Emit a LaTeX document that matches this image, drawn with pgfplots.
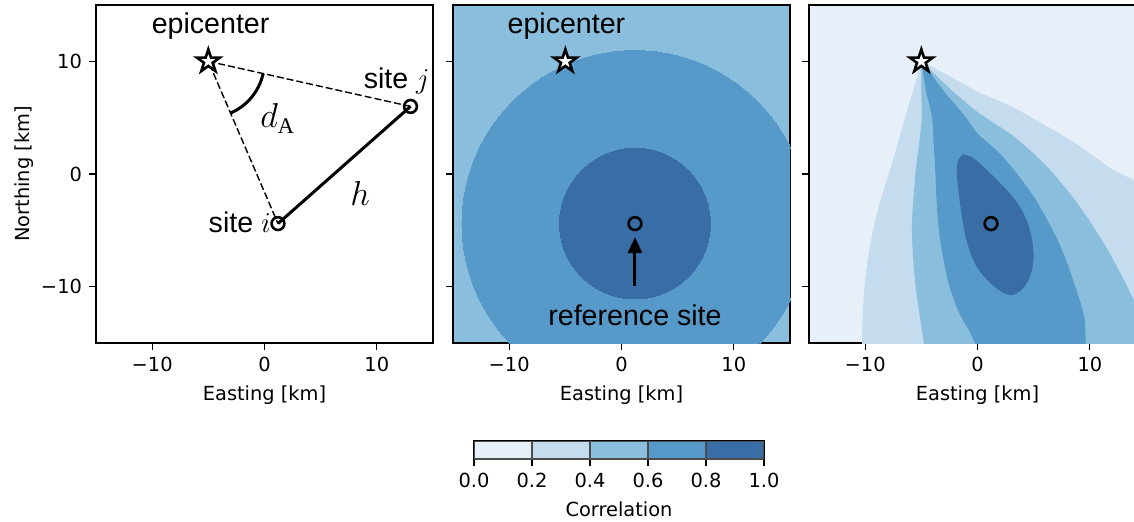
\documentclass[border=0pt]{standalone}
\usepackage{pgfplots}
\pgfplotsset{compat=1.18}
\usepackage{amsmath}
\usepackage{fontspec}
\setmainfont{DejaVu Sans}
\newfontfamily\arial{Liberation Sans}
\newfontfamily\serif{Liberation Serif}
\usetikzlibrary{arrows.meta}
\definecolor{c0}{RGB}{231,240,249}
\definecolor{c1}{RGB}{197,219,238}
\definecolor{c2}{RGB}{137,190,221}
\definecolor{c3}{RGB}{87,153,201}
\definecolor{c4}{RGB}{57,109,166}
\pgfdeclareplotmark{ostar}{%
  \pgfpathmoveto{\pgfpointpolar{90}{\pgfplotmarksize}}%
  \pgfpathlineto{\pgfpointpolar{126}{0.382\pgfplotmarksize}}%
  \pgfpathlineto{\pgfpointpolar{162}{\pgfplotmarksize}}%
  \pgfpathlineto{\pgfpointpolar{198}{0.382\pgfplotmarksize}}%
  \pgfpathlineto{\pgfpointpolar{234}{\pgfplotmarksize}}%
  \pgfpathlineto{\pgfpointpolar{270}{0.382\pgfplotmarksize}}%
  \pgfpathlineto{\pgfpointpolar{306}{\pgfplotmarksize}}%
  \pgfpathlineto{\pgfpointpolar{342}{0.382\pgfplotmarksize}}%
  \pgfpathlineto{\pgfpointpolar{18}{\pgfplotmarksize}}%
  \pgfpathlineto{\pgfpointpolar{54}{0.382\pgfplotmarksize}}%
  \pgfpathclose
  \pgfusepathqfillstroke
}
\newcommand\tfont{\fontsize{9.7}{11.5}\selectfont}
\newcommand\ann{\arial\fontsize{14.3}{16}\selectfont}
\pgfplotsset{
  panel/.style={
    scale only axis, width=168.5pt, height=169pt,
    xmin=-15, xmax=15, ymin=-15, ymax=15,
    xtick={-10,0,10}, ytick={-10,0,10},
    xticklabels={−10,0,10},
    tick align=outside, tick pos=left,
    major tick length=3.5pt,
    every tick/.style={black, line width=0.6pt},
    axis line style={line width=0.6pt},
    ticklabel style={font=\tfont},
    label style={font=\tfont},
    xlabel={Easting [km]},
    clip marker paths=true,
    anchor=south west,
  },
  starmark/.style={only marks, mark=ostar, mark size=6pt,
    mark options={draw=black, fill=white, line width=1.3pt, line join=miter}},
  sitemark/.style={only marks, mark=o, mark size=3.2pt,
    mark options={draw=black, line width=1.3pt}},
  region/.style={draw=none, fill=#1, smooth, tension=0.45},
}
\begin{document}
\begin{tikzpicture}
% ---------------- Panel 1 ----------------
\begin{axis}[panel, at={(48pt,-171.5pt)},
  yticklabels={−10,0,10}, ylabel={Northing [km]}, ylabel shift=-3pt]
\addplot[black, line width=0.7pt, dash pattern=on 3.5pt off 1.5pt] coordinates {(13,6) (-5,10) (1.2,-4.4)};
\addplot[black, line width=1.5pt] coordinates {(1.2,-4.4) (13,6)};
\addplot[black, line width=1.5pt, smooth] coordinates {
(-3.022,5.408) (-2.5,5.67) (-2.061,5.955) (-1.654,6.284) (-1.284,6.654)
(-0.955,7.061) (-0.670,7.5) (-0.432,7.966) (-0.245,8.455) (-0.119,8.918)};
\addplot[starmark] coordinates {(-5,10)};
\addplot[sitemark] coordinates {(13,6) (1.2,-4.4)};
\node[font=\ann] at (axis cs:-4.8,13.1) {epicenter};
\node[font=\ann, anchor=base west, inner sep=0pt] at (axis cs:8.8,7.6) {site $j$};
\node[font=\ann, anchor=base west, inner sep=0pt] at (axis cs:-5.0,-5.2) {site $i$};
\node[font=\fontsize{16}{18}\selectfont, anchor=base west, inner sep=0pt] at (axis cs:-0.4,4.1) {$d_{\text{\serif A}}$};
\node[font=\fontsize{16}{18}\selectfont, anchor=base west, inner sep=0pt] at (axis cs:7.6,-2.8) {$h$};
\end{axis}
% ---------------- Panel 2 ----------------
\begin{axis}[panel, at={(226.5pt,-171.5pt)}, yticklabels={},
  axis background/.style={fill=c2}]
\addplot[only marks, mark=*, mark size=86.5pt, color=c3, mark options={draw=c3, fill=c3, line width=0pt}] coordinates {(1.2,-4.4)};
\addplot[only marks, mark=*, mark size=37.7pt, color=c4, mark options={draw=c4, fill=c4, line width=0pt}] coordinates {(1.2,-4.4)};
\addplot[starmark] coordinates {(-5,10)};
\addplot[sitemark] coordinates {(1.2,-4.4)};
\addplot[black, line width=1.5pt, -{Triangle[length=8pt, width=7pt]}] coordinates {(1.2,-9.9) (1.2,-5.6)};
\node[font=\ann] at (axis cs:-4.9,13.1) {epicenter};
\node[font=\ann] at (axis cs:1.2,-12.5) {reference site};
\end{axis}
% ---------------- Panel 3 ----------------
\begin{axis}[panel, at={(404.5pt,-171.5pt)}, yticklabels={},
  axis background/.style={fill=c0}]
\addplot[region=c1] coordinates {
(-5,10) (-5.7,7.5) (-6.43,5.1) (-7.1,2.7) (-7.8,0.3) (-8.6,-2.2) (-9.24,-4.7)
(-9.7,-7.2) (-10.04,-9.7) (-10.2,-12.2) (-10.3,-15.5) (-10.4,-19) (-10.5,-24)
(20,-24) (20,-4.5) (15,-1.6) (13.8,-0.5) (11.85,0.5) (8.9,2.6) (5.9,4.4)
(3,6.0) (0,7.3) (-2.5,8.7)} -- cycle;
\addplot[region=c2] coordinates {
(-5,10) (-5,7.5) (-4.95,5.1) (-5.2,2.7) (-5.5,0.3) (-5.7,-2.2) (-5.84,-4.7)
(-5.75,-7.2) (-5.54,-9.7) (-5.2,-12.2) (-4.7,-15.5) (-4.2,-19) (-3.7,-24)
(20,-24) (17,-18) (14.8,-13)
(13.78,-10.9) (13.04,-9.42) (11.26,-6.16) (8.89,-2.6) (6.7,0.1) (5,1.8)
(3,3.5) (0,5.5) (-2.5,7.6)} -- cycle;
\addplot[region=c3] coordinates {
(-5,10) (-4.6,7.5) (-4.06,5.1) (-3.9,2.7) (-3.76,0.3) (-3.65,-2.2) (-3.47,-4.7)
(-3.1,-7.2) (-2.58,-9.7) (-1.7,-12.2) (-0.7,-14) (0,-15.5) (1.2,-18.5) (2.2,-24)
(9.8,-24) (9.72,-18.5) (9.65,-15.5)
(9.55,-13) (9.19,-11.5) (8.6,-9.7) (8.0,-7.94) (7.2,-6) (6.22,-4.09) (5,-2)
(3.3,0.3) (1.8,2.0) (0,3.6) (-1.1,5.1) (-2.87,7.2) (-4,8.7)} -- cycle;
\addplot[region=c4] coordinates {
(-1.3,1.75) (-0.5,1.5) (0.3,0.85) (1.2,0.0) (2.2,-1.0) (3.2,-2.1) (4.0,-3.3)
(4.55,-4.6) (4.85,-5.8) (5.0,-7.2) (4.85,-8.5) (4.5,-9.5) (3.9,-10.3)
(3.1,-10.75) (2.3,-10.55) (1.4,-9.9) (0.5,-9.0) (-0.2,-8.0) (-0.7,-6.8)
(-1.05,-5.6) (-1.35,-4.0) (-1.6,-2.3) (-1.8,-0.6) (-1.85,0.5) (-1.7,1.3)} -- cycle;
\addplot[starmark] coordinates {(-5,10)};
\addplot[sitemark] coordinates {(1.2,-4.4)};
\end{axis}
% ---------------- Colorbar ----------------
\begin{axis}[at={(237pt,-229.5pt)}, anchor=south west, scale only axis,
  width=145pt, height=9pt, xmin=0, xmax=1, ymin=0, ymax=1,
  ytick=\empty, xtick={0,0.2,0.4,0.6,0.8,1},
  xticklabels={0.0,0.2,0.4,0.6,0.8,1.0},
  tick align=outside, xtick pos=left, major tick length=3.5pt,
  every tick/.style={black, line width=0.6pt},
  axis line style={line width=0.6pt},
  ticklabel style={font=\tfont}, label style={font=\tfont},
  xlabel={Correlation}]
\addplot[fill=c0, draw=black!70, line width=0.6pt] coordinates {(0,0) (0.2,0) (0.2,1) (0,1)} -- cycle;
\addplot[fill=c1, draw=black!70, line width=0.6pt] coordinates {(0.2,0) (0.4,0) (0.4,1) (0.2,1)} -- cycle;
\addplot[fill=c2, draw=black!70, line width=0.6pt] coordinates {(0.4,0) (0.6,0) (0.6,1) (0.4,1)} -- cycle;
\addplot[fill=c3, draw=black!70, line width=0.6pt] coordinates {(0.6,0) (0.8,0) (0.8,1) (0.6,1)} -- cycle;
\addplot[fill=c4, draw=black!70, line width=0.6pt] coordinates {(0.8,0) (1,0) (1,1) (0.8,1)} -- cycle;
\end{axis}
\pgfresetboundingbox
\path[use as bounding box] (0,0) rectangle (567pt,-260.5pt);
\end{tikzpicture}
\end{document}
